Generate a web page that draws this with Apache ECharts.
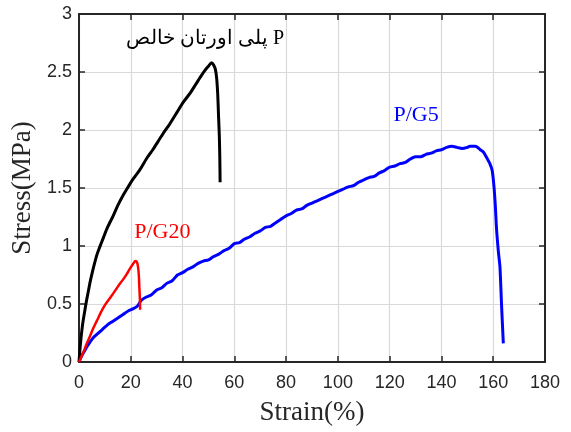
<!DOCTYPE html>
<html>
<head>
<meta charset="utf-8">
<script src="https://cdn.jsdelivr.net/npm/echarts@6/dist/echarts.min.js"></script>
<style>
html,body{margin:0;padding:0;background:#fff;}
#chart{width:571px;height:432px;}
</style>
</head>
<body>
<div id="chart"></div>
<script>
// ---- Data (strain %, stress MPa) ----
const xTicks = [0,20,40,60,80,100,120,140,160,180];
const yTicks = [0,0.5,1,1.5,2,2.5,3];

const pureStrain = [0,0.3,0.7,1.2,1.7,2.3,3,3.7,4.2,5,6,7,8,9.4,11,13.2,15,17.1,19,21,23.6,26,28.5,30.5,32.5,35,37.5,40.3,43,45,46.7,48.5,50,51.2,52,52.7,53.2,53.6,53.9,54.2,54.4,54.5];
const pureStress = [0,0.09,0.19,0.29,0.37,0.45,0.54,0.62,0.68,0.76,0.85,0.93,0.99,1.07,1.16,1.26,1.35,1.44,1.51,1.58,1.66,1.75,1.83,1.90,1.97,2.05,2.14,2.24,2.32,2.39,2.45,2.51,2.55,2.58,2.56,2.52,2.44,2.30,2.12,1.95,1.75,1.55];

const g20Strain = [0,1,2,3,4.2,5.5,7,8.5,10,11.9,13.5,15,17,18.5,19.8,21,21.8,22.4,22.8,23.1,23.3,23.5,23.6];
const g20Stress = [0,0.05,0.10,0.16,0.22,0.29,0.36,0.43,0.49,0.55,0.60,0.65,0.71,0.76,0.81,0.85,0.87,0.86,0.82,0.75,0.65,0.55,0.45];

const g5Strain = [0,1,2,3,4.2,5.5,7,9,11,13,15,17,19,21,22.5,24,26,28,30,32,34,36,38,40,42,44,46,48,50,52,54,56,58,60,62,64,66,68,70,72,74,76,78,80,82,84,86,88,90,92,94,96,98,100,102,104,106,108,110,112,114,116,118,120,122,124,126,128,130,132,134,136,138,140,142,144,146,148,150,151,153,154,155,156.2,157.5,158.7,159.6,160.3,160.8,161.3,162,162.6,163.2,163.9];
const g5Stress = [0,0.05,0.09,0.13,0.17,0.21,0.24,0.28,0.32,0.35,0.38,0.41,0.44,0.46,0.48,0.53,0.56,0.58,0.62,0.64,0.68,0.70,0.75,0.77,0.80,0.82,0.85,0.87,0.88,0.91,0.93,0.96,0.98,1.02,1.03,1.06,1.08,1.11,1.13,1.16,1.17,1.20,1.23,1.26,1.28,1.31,1.32,1.35,1.37,1.39,1.41,1.43,1.45,1.47,1.49,1.51,1.52,1.55,1.57,1.59,1.60,1.63,1.65,1.68,1.69,1.71,1.72,1.75,1.77,1.77,1.79,1.80,1.82,1.83,1.85,1.86,1.85,1.84,1.85,1.86,1.86,1.85,1.83,1.81,1.76,1.71,1.65,1.51,1.35,1.14,0.95,0.82,0.50,0.16];

const labelPure = 'پلی اورتان خالص P';
const labelG5 = 'P/G5';
const labelG20 = 'P/G20';

function pairs(xs, ys){ return xs.map((x,i)=>[x, ys[i]]); }

const chart = echarts.init(document.getElementById('chart'), null, {renderer:'canvas'});
const axisCol = '#262626';
const tickFont = {fontFamily:'Liberation Sans, Arial, sans-serif', fontSize:18, color:axisCol};

function mkLabel(text, coord, color, align, size){
  return {
    symbol:'circle', symbolSize:1, itemStyle:{color:'rgba(0,0,0,0)'},
    silent:true,
    data:[{coord:coord, value:text}],
    label:{show:true, position:'inside', formatter:text, color:color, align:align,
      fontFamily:'Liberation Serif, "Times New Roman", DejaVu Serif, serif', fontSize:size}
  };
}

chart.setOption({
  animation:false,
  backgroundColor:'#fff',
  grid:{left:79, right:26, top:14, bottom:70, containLabel:false},
  xAxis:[{
    type:'value', min:0, max:180, interval:20, position:'bottom',
    axisLine:{show:true, onZero:false, lineStyle:{color:axisCol, width:2}},
    axisTick:{show:true, inside:true, length:6, lineStyle:{color:axisCol, width:1.5}},
    axisLabel:Object.assign({margin:12, formatter:v=>String(v)}, tickFont),
    splitLine:{show:true, lineStyle:{color:'#d9d9d9', width:1.2}},
    name:'Strain(%)', nameLocation:'middle', nameGap:37,
    nameTextStyle:{fontFamily:'Liberation Serif, "Times New Roman", serif', fontSize:27, color:axisCol}
  },{
    type:'value', min:0, max:180, interval:20, position:'top',
    axisLine:{show:true, onZero:false, lineStyle:{color:axisCol, width:2}},
    axisTick:{show:true, inside:true, length:6, lineStyle:{color:axisCol, width:1.5}},
    axisLabel:{show:false}, splitLine:{show:false}
  }],
  yAxis:[{
    type:'value', min:0, max:3, interval:0.5, position:'left',
    axisLine:{show:true, onZero:false, lineStyle:{color:axisCol, width:2}},
    axisTick:{show:true, inside:true, length:6, lineStyle:{color:axisCol, width:1.5}},
    axisLabel:Object.assign({margin:7, formatter:v=>String(v)}, tickFont),
    splitLine:{show:true, lineStyle:{color:'#d9d9d9', width:1.2}},
    name:'Stress(MPa)', nameLocation:'middle', nameGap:35, nameRotate:90,
    nameTextStyle:{fontFamily:'Liberation Serif, "Times New Roman", serif', fontSize:27, color:axisCol}
  },{
    type:'value', min:0, max:3, interval:0.5, position:'right',
    axisLine:{show:true, onZero:false, lineStyle:{color:axisCol, width:2}},
    axisTick:{show:true, inside:true, length:6, lineStyle:{color:axisCol, width:1.5}},
    axisLabel:{show:false}, splitLine:{show:false}
  }],
  series:[
    {type:'line', name:labelG5, data:pairs(g5Strain,g5Stress), showSymbol:false, symbol:'none',
      smooth:0.25,
      lineStyle:{color:'#0000ff', width:3}, itemStyle:{color:'#0000ff'},
      markPoint:mkLabel(labelG5,[130.2,2.13],'#0000ff','center',22)},
    {type:'line', name:'P', data:pairs(pureStrain,pureStress), showSymbol:false, symbol:'none',
      smooth:0.25,
      lineStyle:{color:'#000000', width:3}, itemStyle:{color:'#000000'},
      markPoint:mkLabel(labelPure,[79.2,2.79],'#000000','right',20)},
    {type:'line', name:labelG20, data:pairs(g20Strain,g20Stress), showSymbol:false, symbol:'none',
      smooth:0.25,
      lineStyle:{color:'#ff0000', width:2.5}, itemStyle:{color:'#ff0000'},
      markPoint:mkLabel(labelG20,[32.2,1.12],'#ff0000','center',22)}
  ]
});
</script>
</body>
</html>
